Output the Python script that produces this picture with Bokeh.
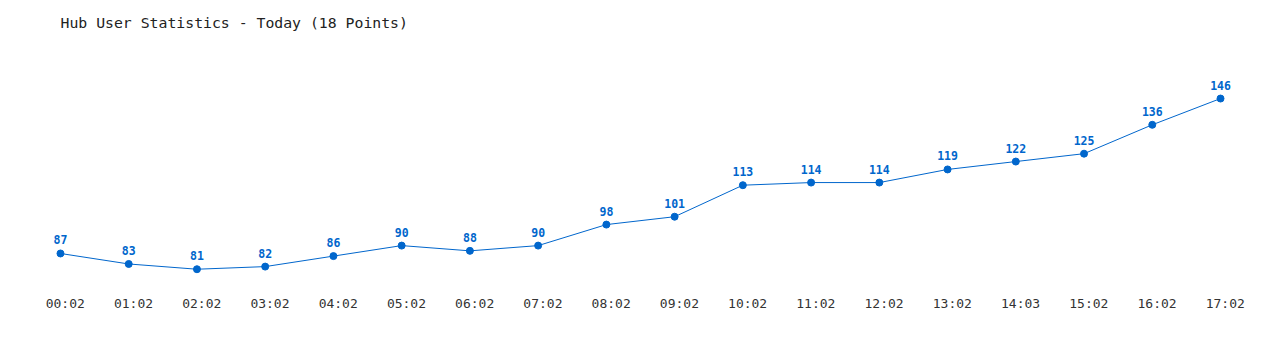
from bokeh.plotting import figure
from bokeh.models import ColumnDataSource, FixedTicker, Range1d
from bokeh.core.properties import value
from bokeh.embed import file_html
from bokeh.resources import INLINE

times = ["00:02", "01:02", "02:02", "03:02", "04:02", "05:02", "06:02", "07:02", "08:02",
         "09:02", "10:02", "11:02", "12:02", "13:02", "14:03", "15:02", "16:02", "17:02"]
users = [87, 83, 81, 82, 86, 90, 88, 90, 98, 101, 113, 114, 114, 119, 122, 125, 136, 146]
title_text = "Hub User Statistics - Today (18 Points)"

idx = list(range(len(times)))
src = ColumnDataSource(dict(x=idx, y=users, lbl=[str(v) for v in users]))

BLUE = "#0066cc"
MONO = "DejaVu Sans Mono"

p = figure(width=1280, height=350, output_backend="svg", toolbar_location=None,
           x_range=Range1d(-0.879, 17.879), y_range=Range1d(72.9, 168.1),
           min_border_left=0, min_border_right=0, min_border_top=40, min_border_bottom=60,
           title=title_text)
p.outline_line_color = None
p.grid.visible = False
p.yaxis.visible = False

p.title.text_font = MONO
p.title.text_font_size = "14.8px"
p.title.text_font_style = "normal"
p.title.text_color = "#222222"
p.title.offset = 60
p.title.standoff = 20

p.line("x", "y", source=src, line_color=BLUE, line_width=1)
p.scatter("x", "y", source=src, size=7, fill_color=BLUE, line_color=BLUE)
p.text("x", "y", text="lbl", source=src, y_offset=-9, text_align="center",
       text_baseline="bottom", text_font=value(MONO), text_font_size="11.5px",
       text_font_style="bold", text_color=BLUE)

tick_pos = [i + 0.07 for i in idx]
ax = p.xaxis[0]
ax.ticker = FixedTicker(ticks=tick_pos)
ax.major_label_overrides = {t: s for t, s in zip(tick_pos, times)}
ax.axis_line_color = None
ax.major_tick_line_color = None
ax.minor_tick_line_color = None
ax.major_tick_out = 0
ax.major_tick_in = 0
ax.major_label_standoff = 5
ax.major_label_text_font = MONO
ax.major_label_text_font_size = "13px"
ax.major_label_text_color = "#333333"

open("out.html", "w").write(file_html(p, INLINE))
